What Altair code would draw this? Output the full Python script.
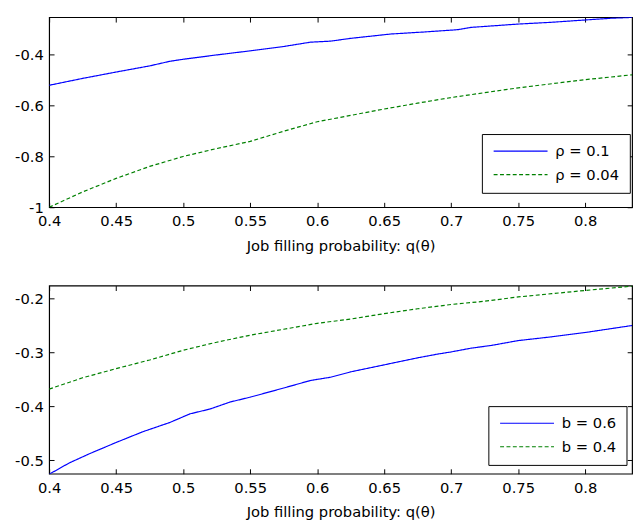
import altair as alt
import pandas as pd

# ---------------- data ----------------
x_ticks = [0.4, 0.45, 0.5, 0.55, 0.6, 0.65, 0.7, 0.75, 0.8]
top_y_ticks = [-1, -0.8, -0.6, -0.4]
bot_y_ticks = [-0.5, -0.4, -0.3, -0.2]

top_labels = ["ρ = 0.1", "ρ = 0.04"]
bot_labels = ["b = 0.6", "b = 0.4"]

top_blue_q = [0.4, 0.425, 0.45, 0.475, 0.49, 0.5, 0.525, 0.55, 0.575, 0.595, 0.61, 0.625,
              0.655, 0.68, 0.705, 0.715, 0.75, 0.775, 0.8, 0.82, 0.835]
top_blue_v = [-0.522, -0.495, -0.470, -0.446, -0.428, -0.420, -0.403, -0.387, -0.370, -0.353,
              -0.349, -0.338, -0.321, -0.313, -0.304, -0.295, -0.282, -0.275, -0.266, -0.259, -0.256]

top_green_q = [0.4, 0.425, 0.45, 0.475, 0.5, 0.525, 0.55, 0.575, 0.6, 0.625, 0.65, 0.675,
               0.7, 0.725, 0.75, 0.775, 0.8, 0.835]
top_green_v = [-1.0, -0.940, -0.887, -0.840, -0.801, -0.770, -0.742, -0.702, -0.665, -0.640,
               -0.615, -0.592, -0.570, -0.551, -0.532, -0.516, -0.500, -0.481]

bot_blue_q = [0.4, 0.415, 0.43, 0.45, 0.47, 0.49, 0.505, 0.52, 0.535, 0.55, 0.575, 0.595,
              0.61, 0.625, 0.65, 0.675, 0.69, 0.7, 0.715, 0.73, 0.75, 0.775, 0.8, 0.835]
bot_blue_v = [-0.526, -0.505, -0.488, -0.467, -0.447, -0.430, -0.414, -0.405, -0.392, -0.383,
              -0.366, -0.352, -0.346, -0.336, -0.323, -0.310, -0.303, -0.299, -0.292, -0.287,
              -0.278, -0.271, -0.263, -0.250]

bot_green_q = [0.4, 0.425, 0.45, 0.475, 0.5, 0.525, 0.55, 0.575, 0.6, 0.625, 0.65, 0.675,
               0.7, 0.725, 0.75, 0.775, 0.8, 0.835]
bot_green_v = [-0.368, -0.347, -0.330, -0.314, -0.296, -0.281, -0.268, -0.257, -0.246, -0.238,
               -0.228, -0.219, -0.211, -0.205, -0.197, -0.191, -0.185, -0.177]

X_DOMAIN = [0.4, 0.835]
TOP_Y_DOMAIN = [-1.0, -0.255]
BOT_Y_DOMAIN = [-0.525, -0.176]

W = 595
H_TOP, H_BOT = 194, 192
FONT = "DejaVu Sans"
FS = 15
TICK = 5
XTITLE = "Job filling probability: q(θ)"


def make_df(labels, q1, v1, q2, v2):
    rows = [{"q": q, "v": v, "s": labels[0]} for q, v in zip(q1, v1)]
    rows += [{"q": q, "v": v, "s": labels[1]} for q, v in zip(q2, v2)]
    return pd.DataFrame(rows)


def panel(df, labels, ydomain, yticks, lx, ly, H):
    xs = alt.Scale(domain=X_DOMAIN, nice=False, zero=False)
    ys = alt.Scale(domain=ydomain, nice=False, zero=False)
    tick_props = dict(ticks=True, tickSize=TICK, tickColor="black", tickWidth=1,
                      offset=-TICK, domain=False, grid=False)
    xax = alt.Axis(
        orient="bottom", values=x_ticks, title=XTITLE, labelExpr="'' + datum.value",
        labelPadding=7, titlePadding=10, labelFlush=False,
        labelFont=FONT, labelFontSize=FS, titleFont=FONT, titleFontSize=FS,
        titleFontWeight="normal", labelColor="black", titleColor="black", **tick_props)
    yax = alt.Axis(
        orient="left", values=yticks, title=None, labelExpr="'' + datum.value",
        labelPadding=6, minExtent=46, maxExtent=46, labelFlush=False,
        labelFont=FONT, labelFontSize=FS, labelColor="black", **tick_props)
    xax_top = alt.Axis(orient="top", values=x_ticks, title=None, labels=False,
                       minExtent=0, maxExtent=TICK, **tick_props)
    yax_right = alt.Axis(orient="right", values=yticks, title=None, labels=False,
                         minExtent=0, maxExtent=TICK, **tick_props)
    leg = alt.Legend(
        title=None, orient="none", legendX=lx, legendY=ly,
        fillColor="white", strokeColor="black", padding=10,
        symbolType="M-5,0H5", symbolSize=121, symbolStrokeWidth=1.2,
        symbolOffset=22,
        labelFont=FONT, labelFontSize=FS, labelColor="black",
        labelOffset=28, rowPadding=8,
    )
    lines = alt.Chart(df).mark_line(strokeWidth=1.2, clip=True).encode(
        x=alt.X("q:Q", scale=xs, axis=xax),
        y=alt.Y("v:Q", scale=ys, axis=yax),
        color=alt.Color("s:N", scale=alt.Scale(domain=labels, range=["#0000ff", "#008000"]), legend=leg),
        strokeDash=alt.StrokeDash("s:N", scale=alt.Scale(domain=labels, range=[[1, 0], [4, 2.5]]), legend=leg),
    )
    # invisible copy that only carries the top / right tick axes (MATLAB box ticks)
    frame = alt.Chart(df).mark_point(opacity=0).encode(
        x=alt.X("q:Q", scale=xs, axis=xax_top),
        y=alt.Y("v:Q", scale=ys, axis=yax_right),
    )
    return alt.layer(lines, frame).resolve_axis(x="independent", y="independent").properties(
        width=W, height=H)


top_df = make_df(top_labels, top_blue_q, top_blue_v, top_green_q, top_green_v)
bot_df = make_df(bot_labels, bot_blue_q, bot_blue_v, bot_green_q, bot_green_v)

top = panel(top_df, top_labels, TOP_Y_DOMAIN, top_y_ticks, 441.7, 119.3, H_TOP)
bot = panel(bot_df, bot_labels, BOT_Y_DOMAIN, bot_y_ticks, 448.3, 123, H_BOT)

chart = alt.vconcat(top, bot, spacing=29).resolve_scale(
    x="independent", y="independent", color="independent", strokeDash="independent"
).resolve_legend(color="independent", strokeDash="independent").properties(
    padding={"left": 0, "top": 0, "right": 0, "bottom": 0}
).configure_view(stroke="black", strokeWidth=1.2)

chart.save("out.html", embed_options={"renderer": "svg", "actions": False})
